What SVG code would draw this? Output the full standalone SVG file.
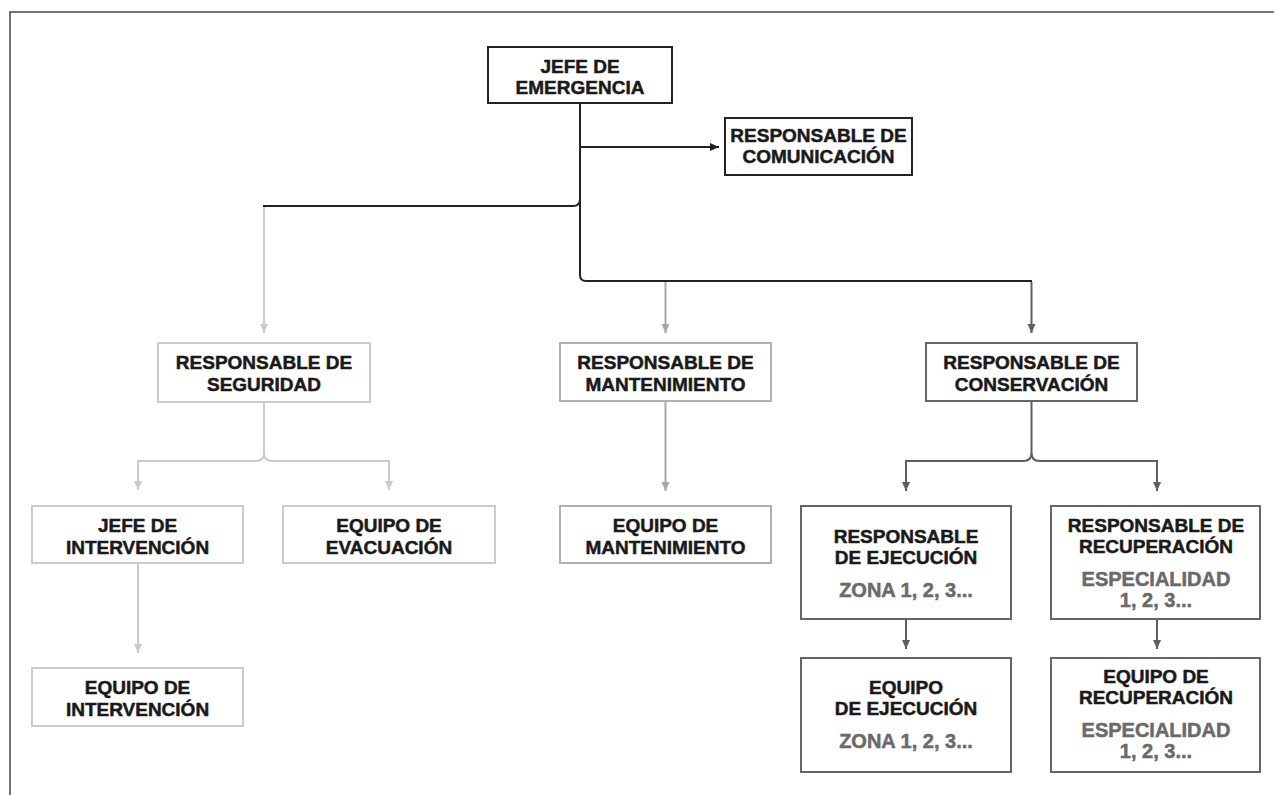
<svg xmlns="http://www.w3.org/2000/svg" width="1274" height="795" viewBox="0 0 1274 795">
<style>
text{font-family:"Liberation Sans",Arial,sans-serif;font-weight:bold;font-size:19px;text-anchor:middle;fill:#1a1a1a;stroke:#1a1a1a;stroke-width:0.5}
text .sub{fill:#6a6a6a;stroke:#6a6a6a;font-size:20px}
.bk{fill:#fff;stroke:#222;stroke-width:2}
.lg{fill:#fff;stroke:#cbcbcb;stroke-width:2}
.mg{fill:#fff;stroke:#b0b0b0;stroke-width:2}
.dg{fill:#fff;stroke:#666;stroke-width:2}
.c{fill:none;stroke-width:2}
.cbk{stroke:#222}
.clg{stroke:#cbcbcb}
.cmg{stroke:#a8a8a8}
.cdg{stroke:#5f5f5f}
</style>
<defs>
<marker id="aBk" viewBox="0 0 10 10" refX="10" refY="5" markerWidth="9" markerHeight="9" markerUnits="userSpaceOnUse" orient="auto"><path d="M0,0.5 L10,5 L0,9.5 z" fill="#222"/></marker>
<marker id="aLg" viewBox="0 0 10 10" refX="10" refY="5" markerWidth="9" markerHeight="9" markerUnits="userSpaceOnUse" orient="auto"><path d="M0,0.5 L10,5 L0,9.5 z" fill="#cbcbcb"/></marker>
<marker id="aMg" viewBox="0 0 10 10" refX="10" refY="5" markerWidth="9" markerHeight="9" markerUnits="userSpaceOnUse" orient="auto"><path d="M0,0.5 L10,5 L0,9.5 z" fill="#a8a8a8"/></marker>
<marker id="aDg" viewBox="0 0 10 10" refX="10" refY="5" markerWidth="9" markerHeight="9" markerUnits="userSpaceOnUse" orient="auto"><path d="M0,0.5 L10,5 L0,9.5 z" fill="#5f5f5f"/></marker>
</defs>
<rect width="1274" height="795" fill="#fff"/>
<path d="M10,795 V12 H1274" fill="none" stroke="#444" stroke-width="1.5"/>

<g id="connectors">
<path class="c cbk" d="M580,103 V275 Q580,281 586,281 H1032"/>
<path class="c cbk" stroke-width="1.6" d="M580,147 H719" marker-end="url(#aBk)"/>
<path class="c cbk" d="M580,199 Q580,206 573,206 H263"/>
<path class="c clg" d="M264,207 V333" marker-end="url(#aLg)"/>
<path class="c cmg" d="M665.5,282 V333" marker-end="url(#aMg)"/>
<path class="c cdg" d="M1031.5,282 V333" marker-end="url(#aDg)"/>
<path class="c clg" d="M264,402 V453"/>
<path class="c clg" d="M264,453 Q264,461 256,461 H138 V490" marker-end="url(#aLg)"/>
<path class="c clg" d="M264,453 Q264,461 272,461 H389 V490" marker-end="url(#aLg)"/>
<path class="c cmg" d="M665.5,401 V491" marker-end="url(#aMg)"/>
<path class="c cdg" d="M1031.5,401 V453"/>
<path class="c cdg" d="M1031.5,453 Q1031.5,461 1023.5,461 H906 V491" marker-end="url(#aDg)"/>
<path class="c cdg" d="M1031.5,453 Q1031.5,461 1039.5,461 H1157 V491" marker-end="url(#aDg)"/>
<path class="c clg" d="M138,563 V653" marker-end="url(#aLg)"/>
<path class="c cdg" d="M906,619 V649" marker-end="url(#aDg)"/>
<path class="c cdg" d="M1157,619 V649" marker-end="url(#aDg)"/>
</g>

<g id="jefe-emergencia"><rect class="bk" x="488" y="47" width="184" height="56"/><text x="580" y="73">JEFE DE</text><text x="580" y="94">EMERGENCIA</text></g>
<g id="resp-comunicacion"><rect class="bk" x="725" y="118" width="187" height="57"/><text x="818.5" y="142">RESPONSABLE DE</text><text x="818.5" y="163">COMUNICACIÓN</text></g>
<g id="resp-seguridad"><rect class="lg" x="158" y="343" width="212" height="59"/><text x="264" y="369">RESPONSABLE DE</text><text x="264" y="391">SEGURIDAD</text></g>
<g id="resp-mantenimiento"><rect class="mg" x="560" y="343" width="211" height="58"/><text x="665.5" y="369">RESPONSABLE DE</text><text x="665.5" y="391">MANTENIMIENTO</text></g>
<g id="resp-conservacion"><rect class="dg" x="926" y="343" width="211" height="58"/><text x="1031.5" y="369">RESPONSABLE DE</text><text x="1031.5" y="391">CONSERVACIÓN</text></g>
<g id="jefe-intervencion"><rect class="lg" x="32" y="506" width="211" height="57"/><text x="137.5" y="532">JEFE DE</text><text x="137.5" y="554">INTERVENCIÓN</text></g>
<g id="equipo-evacuacion"><rect class="lg" x="283" y="506" width="212" height="57"/><text x="389" y="532">EQUIPO DE</text><text x="389" y="554">EVACUACIÓN</text></g>
<g id="equipo-mantenimiento"><rect class="mg" x="560" y="506" width="211" height="57"/><text x="665.5" y="532">EQUIPO DE</text><text x="665.5" y="554">MANTENIMIENTO</text></g>
<g id="resp-ejecucion"><rect class="dg" x="801" y="506" width="210" height="113"/><text x="906" y="543">RESPONSABLE</text><text x="906" y="564">DE EJECUCIÓN</text><text x="906" y="597"><tspan class="sub">ZONA 1, 2, 3...</tspan></text></g>
<g id="resp-recuperacion"><rect class="dg" x="1051" y="506" width="209" height="113"/><text x="1156" y="532">RESPONSABLE DE</text><text x="1156" y="553">RECUPERACIÓN</text><text x="1156" y="586"><tspan class="sub">ESPECIALIDAD</tspan></text><text x="1156" y="607"><tspan class="sub">1, 2, 3...</tspan></text></g>
<g id="equipo-intervencion"><rect class="lg" x="32" y="668" width="211" height="58"/><text x="137.5" y="694">EQUIPO DE</text><text x="137.5" y="716">INTERVENCIÓN</text></g>
<g id="equipo-ejecucion"><rect class="dg" x="801" y="658" width="210" height="114"/><text x="906" y="694">EQUIPO</text><text x="906" y="715">DE EJECUCIÓN</text><text x="906" y="748"><tspan class="sub">ZONA 1, 2, 3...</tspan></text></g>
<g id="equipo-recuperacion"><rect class="dg" x="1051" y="658" width="209" height="114"/><text x="1156" y="683">EQUIPO DE</text><text x="1156" y="704">RECUPERACIÓN</text><text x="1156" y="737"><tspan class="sub">ESPECIALIDAD</tspan></text><text x="1156" y="758"><tspan class="sub">1, 2, 3...</tspan></text></g>
</svg>
